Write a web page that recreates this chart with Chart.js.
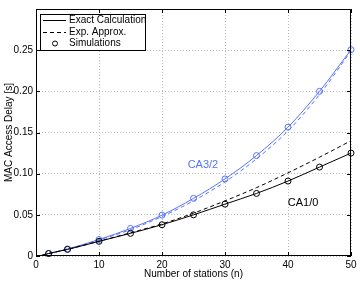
<!DOCTYPE html>
<html>
<head>
<meta charset="utf-8">
<script src="https://cdn.jsdelivr.net/npm/chart.js@4.4.0/dist/chart.umd.min.js"></script>
<style>
  html, body { margin: 0; padding: 0; background: #fff; }
  #wrap { width: 360px; height: 282px; }
</style>
</head>
<body>
<div id="wrap"><canvas id="c"></canvas></div>
<script>
// Number of stations used for the analytic curves
const nLine = [1, 2, 5, 10, 15, 20, 25, 30, 35, 40, 45, 50];
// CA1/0 curves
const ca10Exact  = [0.001, 0.003, 0.008, 0.0178, 0.0275, 0.038, 0.050, 0.063, 0.076, 0.091, 0.108, 0.125];
const ca10Approx = [0.001, 0.003, 0.008, 0.0180, 0.0282, 0.039, 0.052, 0.067, 0.083, 0.101, 0.120, 0.140];
// CA3/2 curves
const ca32Exact  = [0.0012, 0.003, 0.0085, 0.020, 0.0335, 0.0496, 0.070, 0.0936, 0.122, 0.1565, 0.200, 0.2506];
const ca32Approx = [0.0012, 0.003, 0.0083, 0.0195, 0.032, 0.048, 0.067, 0.090, 0.118, 0.152, 0.196, 0.249];

// Simulation points
const nSim = [2, 5, 10, 15, 20, 25, 30, 35, 40, 45, 50];
const ca10Sim = [0.003, 0.008, 0.0178, 0.0275, 0.038, 0.050, 0.063, 0.076, 0.091, 0.108, 0.125];
const ca32Sim = [0.003, 0.0085, 0.020, 0.0335, 0.0496, 0.070, 0.0936, 0.122, 0.1565, 0.200, 0.2506];

const xTicks = [0, 10, 20, 30, 40, 50];
const yTicks = [0, 0.05, 0.1, 0.15, 0.2, 0.25];

const BLUE = 'rgb(85,115,255)';
const FONT = 'Liberation Sans, Arial, sans-serif';

function pts(xs, ys) {
    return xs.map((x, i) => ({ x: x, y: ys[i] }));
}

function lineSet(label, xs, ys, color, dash) {
    return {
        label: label,
        data: pts(xs, ys),
        showLine: true,
        borderColor: color,
        borderWidth: 1,
        borderDash: dash,
        pointRadius: 0,
        cubicInterpolationMode: 'monotone',
        fill: false
    };
}

function simSet(label, xs, ys, color) {
    return {
        label: label,
        data: pts(xs, ys),
        showLine: false,
        clip: 5,
        borderColor: color,
        backgroundColor: 'rgba(0,0,0,0)',
        borderWidth: 1,
        pointRadius: 3,
        pointStyle: 'circle'
    };
}

// box with inward tick marks, like the original figure
const boxPlugin = {
    id: 'box',
    afterDatasetsDraw(chart) {
        const { ctx, chartArea: a, scales } = chart;
        ctx.save();
        ctx.strokeStyle = '#000';
        ctx.lineWidth = 1;
        ctx.strokeRect(a.left + 0.5, a.top + 0.5, a.right - a.left - 1, a.bottom - a.top - 1);
        ctx.beginPath();
        xTicks.forEach(v => {
            const x = Math.round(scales.x.getPixelForValue(v)) + 0.5;
            ctx.moveTo(x, a.bottom); ctx.lineTo(x, a.bottom - 4);
            ctx.moveTo(x, a.top); ctx.lineTo(x, a.top + 4);
        });
        yTicks.forEach(v => {
            const y = Math.round(scales.y.getPixelForValue(v)) + 0.5;
            ctx.moveTo(a.left, y); ctx.lineTo(a.left + 4, y);
            ctx.moveTo(a.right, y); ctx.lineTo(a.right - 4, y);
        });
        ctx.stroke();

        // curve labels
        ctx.font = '11px ' + FONT;
        ctx.textAlign = 'center';
        ctx.textBaseline = 'middle';
        ctx.fillStyle = BLUE;
        ctx.fillText('CA3/2', scales.x.getPixelForValue(26.5), scales.y.getPixelForValue(0.110));
        ctx.fillStyle = '#000';
        ctx.fillText('CA1/0', scales.x.getPixelForValue(42.4), scales.y.getPixelForValue(0.064));

        // legend
        const lx = a.left + 4, ly = a.top + 5, lw = 106, lh = 37;
        ctx.fillStyle = '#fff';
        ctx.fillRect(lx, ly, lw, lh);
        ctx.strokeRect(lx + 0.5, ly + 0.5, lw - 1, lh - 1);
        const rows = ['Exact Calculation', 'Exp. Approx.', 'Simulations'];
        ctx.font = '10px ' + FONT;
        ctx.textAlign = 'left';
        ctx.fillStyle = '#000';
        rows.forEach((t, i) => {
            const y = Math.round(ly + 6 + i * 11.5) + 0.5;
            ctx.fillText(t, lx + 29, y);
            ctx.beginPath();
            if (i === 0) {
                ctx.setLineDash([]);
                ctx.moveTo(lx + 3, y); ctx.lineTo(lx + 26, y);
                ctx.stroke();
            } else if (i === 1) {
                ctx.setLineDash([4, 3]);
                ctx.moveTo(lx + 3, y); ctx.lineTo(lx + 26, y);
                ctx.stroke();
                ctx.setLineDash([]);
            } else {
                ctx.arc(lx + 15, y, 2.5, 0, Math.PI * 2);
                ctx.stroke();
            }
        });
        ctx.restore();
    }
};

new Chart(document.getElementById('c'), {
    type: 'scatter',
    data: {
        datasets: [
            lineSet('Exact Calculation', nLine, ca10Exact, '#000', []),
            lineSet('Exp. Approx.', nLine, ca10Approx, '#000', [4, 3]),
            simSet('Simulations', nSim, ca10Sim, '#000'),
            lineSet('CA3/2 exact', nLine, ca32Exact, BLUE, []),
            lineSet('CA3/2 approx', nLine, ca32Approx, BLUE, [4, 3]),
            simSet('CA3/2 sim', nSim, ca32Sim, BLUE)
        ]
    },
    options: {
        responsive: true,
        maintainAspectRatio: false,
        animation: false,
        layout: { padding: { left: 0, right: 9, top: 7, bottom: 0 } },
        plugins: {
            legend: { display: false },
            tooltip: { enabled: false }
        },
        scales: {
            x: {
                type: 'linear',
                min: 0,
                max: 50,
                afterBuildTicks: s => { s.ticks = xTicks.map(v => ({ value: v })); },
                afterFit: s => { s.height = 26; },
                grid: { color: '#bbb', drawTicks: false },
                border: { display: false, dash: [1, 2] },
                ticks: { padding: 3, color: '#000', font: { family: FONT, size: 10 } },
                title: {
                    display: true,
                    text: 'Number of stations (n)',
                    color: '#000',
                    font: { family: FONT, size: 10 },
                    padding: { top: 0, bottom: 2 }
                }
            },
            y: {
                type: 'linear',
                min: 0,
                max: 0.3,
                afterBuildTicks: s => { s.ticks = yTicks.map(v => ({ value: v })); },
                afterFit: s => { s.width = 36; },
                grid: { color: '#bbb', drawTicks: false },
                border: { display: false, dash: [1, 2] },
                ticks: { padding: 3, color: '#000', font: { family: FONT, size: 10 } },
                title: {
                    display: true,
                    text: 'MAC Access Delay [s]',
                    color: '#000',
                    font: { family: FONT, size: 10 },
                    padding: { top: 3, bottom: 0 }
                }
            }
        }
    },
    plugins: [boxPlugin]
});
</script>
</body>
</html>
